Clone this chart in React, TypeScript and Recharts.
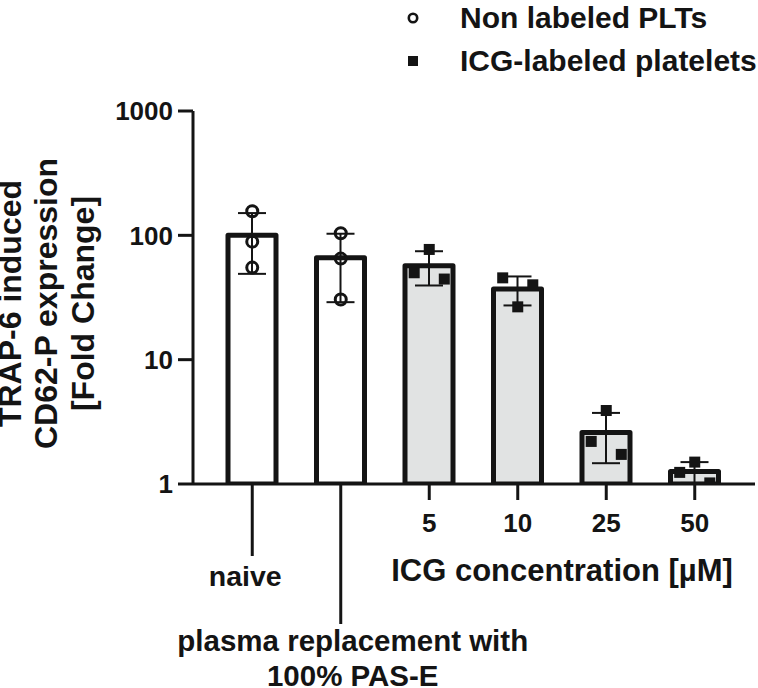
import {
  ComposedChart, Bar, Cell, ErrorBar, Scatter, XAxis, YAxis, Legend, Label,
} from 'recharts'

// 组别 / 均值 / SD
const categories = ['naive', 'PAS-E', '5', '10', '25', '50']
const categoryLabels = [['naive'], ['plasma replacement with', '100% PAS-E'], ['5'], ['10'], ['25'], ['50']]
const meanFold = [100, 66, 57, 37, 2.6, 1.26]
const sdFold = [51, 37, 17.5, 9.7, 1.13, 0.24]
const icgGroup = [false, false, true, true, true, true]

// 单个样本点，x = 组序号 (1..6)，小数部分为散点抖动
const nonLabeledX = [1, 1, 1, 2, 2, 2]
const nonLabeledY = [156, 89, 55, 104, 65, 30.5]
const icgX = [3, 2.83, 3.17, 3.83, 4.17, 4, 5, 4.83, 5.17, 6, 5.83, 6.17]
const icgY = [77, 50, 44.5, 45.5, 40, 26.6, 3.9, 2.2, 1.73, 1.5, 1.24, 1.02]

const yTicks = [1, 10, 100, 1000]
const yTitle = ['TRAP-6 induced', 'CD62-P expression', '[Fold Change]']
const xTitle = 'ICG concentration [µM]'
const legendNames = ['Non labeled PLTs', 'ICG-labeled platelets']

const INK = '#141414'
const FONT = '"Liberation Sans", Arial, Helvetica, sans-serif'

const rows = categories.map((c, i) => ({ cat: c, mean: meanFold[i], sd: sdFold[i] }))
const nonLabeled = nonLabeledX.map((x, i) => ({ x, y: nonLabeledY[i] }))
const icgLabeled = icgX.map((x, i) => ({ x, y: icgY[i] }))

function OpenCircle(p: any) {
  return <circle cx={p.cx} cy={p.cy} r={5.5} fill="none" stroke={INK} strokeWidth={3} />
}

function FilledSquare(p: any) {
  return <rect x={p.cx - 5.5} y={p.cy - 5.5} width={11} height={11} fill={INK} />
}

function CategoryTick(props: any) {
  const { x, y, index } = props
  const lines = categoryLabels[index] || []
  if (index === 0) {
    return (
      <g>
        <line x1={x} y1={y} x2={x} y2={y + 72} stroke={INK} strokeWidth={3} />
        <text x={x - 7} y={y + 102} textAnchor="middle" fontSize={28.5} fontWeight={700} fontFamily={FONT} fill={INK}>{lines[0]}</text>
      </g>
    )
  }
  if (index === 1) {
    return (
      <g>
        <line x1={x} y1={y} x2={x} y2={y + 140} stroke={INK} strokeWidth={3} />
        <text x={x + 12} y={y + 167} textAnchor="middle" fontSize={29.5} fontWeight={700} fontFamily={FONT} fill={INK}>{lines[0]}</text>
        <text x={x + 12} y={y + 202} textAnchor="middle" fontSize={29.5} fontWeight={700} fontFamily={FONT} fill={INK}>{lines[1]}</text>
      </g>
    )
  }
  return (
    <g>
      <line x1={x} y1={y} x2={x} y2={y + 16} stroke={INK} strokeWidth={3} />
      <text x={x} y={y + 48} textAnchor="middle" fontSize={26} fontWeight={700} fontFamily={FONT} fill={INK}>{lines[0]}</text>
    </g>
  )
}

function YTitle(props: any) {
  const vb = props.viewBox || { x: 0, y: 0, height: 0 }
  const cy = vb.y + vb.height / 2 + 6
  const baselines = [21, 57, 94]
  return (
    <g>
      {yTitle.map((t, i) => (
        <text key={i} x={vb.x + baselines[i]} y={cy} transform={`rotate(-90, ${vb.x + baselines[i]}, ${cy})`}
          textAnchor="middle" fontSize={32} fontWeight={700} fontFamily={FONT} fill={INK}>{t}</text>
      ))}
    </g>
  )
}

function XTitle(props: any) {
  const vb = props.viewBox || { x: 0, y: 0, width: 0 }
  const band = (vb.width - 15 - 16) / categories.length
  const cx = vb.x + 15 + band * 4
  return (
    <text x={cx} y={vb.y + 97} textAnchor="middle" fontSize={31} fontWeight={700} fontFamily={FONT} fill={INK}>{xTitle}</text>
  )
}

function LegendBox() {
  return (
    <div style={{ fontFamily: FONT, fontWeight: 700, fontSize: 30, color: INK }}>
      {legendNames.map((name, i) => (
        <div key={name} style={{ display: 'flex', alignItems: 'center', height: 43 }}>
          <svg width={14} height={14} style={{ flex: 'none' }}>
            {i === 0
              ? <circle cx={7} cy={7} r={4.2} fill="none" stroke={INK} strokeWidth={2.6} />
              : <rect x={2} y={2} width={10} height={10} fill={INK} />}
          </svg>
          <span style={{ marginLeft: 40, whiteSpace: 'nowrap' }}>{name}</span>
        </div>
      ))}
    </div>
  )
}

export default function App() {
  return (
    <div style={{ position: 'absolute', left: 0, top: 0, width: 758, height: 688, background: '#fff' }}>
      <ComposedChart width={758} height={688} data={rows} margin={{ top: 111, right: 3, bottom: 0, left: 0 }}>
        <XAxis
          xAxisId="cat" dataKey="cat" type="category" height={204} interval={0}
          padding={{ left: 15, right: 16 }}
          axisLine={{ stroke: INK, strokeWidth: 3 }} tickLine={false} tickSize={0} tickMargin={0}
          tick={<CategoryTick />}
        >
          <Label content={<XTitle />} />
        </XAxis>
        <XAxis xAxisId="pts" dataKey="x" type="number" domain={[0.5, 6.5]} allowDataOverflow hide padding={{ left: 15, right: 16 }} />
        <YAxis
          scale="log" domain={[1, 1000]} ticks={yTicks} allowDataOverflow width={193}
          tickSize={15} tickMargin={5}
          axisLine={{ stroke: INK, strokeWidth: 3 }} tickLine={{ stroke: INK, strokeWidth: 3 }}
          tick={{ fontSize: 26, fontWeight: 700, fill: INK, fontFamily: FONT }}
        >
          <Label content={<YTitle />} />
        </YAxis>
        <Legend
          layout="horizontal" verticalAlign="middle" align="center"
          wrapperStyle={{ left: 406, top: -4, width: 352 }}
          content={<LegendBox />}
        />
        <Bar xAxisId="cat" dataKey="mean" barSize={48} stroke={INK} strokeWidth={5} strokeLinejoin="round" isAnimationActive={false}>
          {rows.map((r, i) => (
            <Cell key={r.cat} fill={icgGroup[i] ? '#e1e3e3' : '#ffffff'} />
          ))}
          <ErrorBar dataKey="sd" direction="y" width={14} stroke={INK} strokeWidth={2} />
        </Bar>
        <Scatter xAxisId="pts" name={legendNames[0]} data={nonLabeled} dataKey="y" shape={OpenCircle} isAnimationActive={false} />
        <Scatter xAxisId="pts" name={legendNames[1]} data={icgLabeled} dataKey="y" shape={FilledSquare} isAnimationActive={false} />
      </ComposedChart>
    </div>
  )
}
